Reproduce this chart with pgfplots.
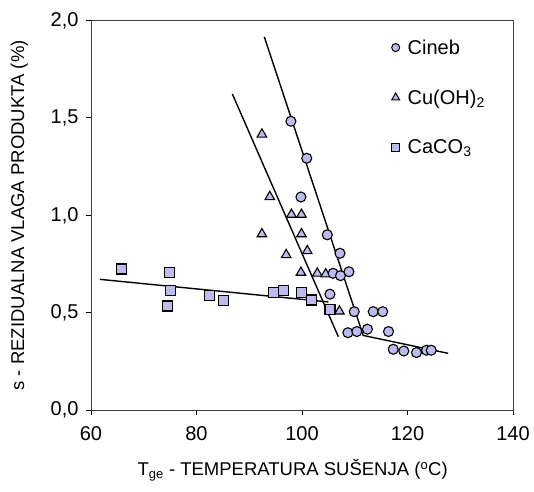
\documentclass[border=0pt]{standalone}
\usepackage{fontspec}
\setmainfont{Liberation Sans}
\usepackage{pgfplots}
\pgfplotsset{compat=1.18}
\definecolor{lav}{RGB}{187,187,238}
\begin{document}
\begin{tikzpicture}
\useasboundingbox (-91bp,-82bp) rectangle (443bp,410bp);
\begin{axis}[
  at={(0,0)}, anchor=south west,
  width=422bp, height=389.4bp, scale only axis,
  xmin=60, xmax=140, ymin=0, ymax=2,
  xtick={60,80,100,120,140}, ytick={0,0.5,1,1.5,2},
  tick align=outside, xtick pos=bottom, ytick pos=left,
  major tick length=5bp,
  axis line style={black!75, line width=0.9bp},
  tick style={black, line width=0.9bp},
  /pgf/number format/assume math mode=true,
  font=\fontsize{18.5bp}{22bp}\selectfont,
  tick label style={font=\fontsize{20bp}{24bp}\selectfont},
  yticklabel style={xshift=-4bp, /pgf/number format/.cd, fixed, fixed zerofill, precision=1, use comma},
  xticklabel style={yshift=-8bp, /pgf/number format/.cd, fixed, precision=0},
  xlabel={T\textsubscript{ge} - TEMPERATURA SUŠENJA (\textsuperscript{o}C)},
  ylabel={s - REZIDUALNA VLAGA PRODUKTA (\%)},
  xlabel style={at={(axis description cs:0.478,-0.154)}, anchor=center},
  ylabel style={at={(axis description cs:-0.17,0.5)}, anchor=center},
  legend style={draw=none, fill=none, at={(0.705,0.962)}, anchor=north west,
    row sep=30bp, font=\fontsize{20bp}{24bp}\selectfont},
  legend cell align=left,
]
% CaCO3
\addplot[only marks, mark=square*, mark size=5bp, mark options={fill=lav, draw=black, line width=1.1bp}, forget plot] coordinates {
(65.7,0.724) (74.8,0.705) (75.0,0.613) (74.5,0.534) (82.4,0.586) (85.1,0.564)
(94.6,0.603) (96.5,0.612) (99.9,0.603) (101.8,0.565) (105.3,0.514)
};
% Cu(OH)2
\addplot[only marks, mark=triangle*, mark size=5.5bp, mark options={fill=lav, draw=black, line width=1.1bp}, forget plot] coordinates {
(92.4,1.416) (93.9,1.095) (98.0,1.004) (99.9,1.004) (92.4,0.904) (99.9,0.904)
(97.0,0.797) (101.0,0.817) (99.8,0.706) (102.9,0.702) (104.5,0.698) (107.1,0.507)
};
% Cineb
\addplot[only marks, mark=*, mark size=5bp, mark options={fill=lav, draw=black, line width=1.1bp}, forget plot] coordinates {
(97.9,1.483) (100.9,1.293) (99.8,1.094) (104.8,0.900) (107.2,0.805)
(105.9,0.702) (107.3,0.690) (108.9,0.710) (105.3,0.595)
(109.9,0.505) (113.5,0.505) (115.3,0.505)
(108.7,0.397) (110.4,0.403) (112.4,0.415) (116.4,0.403)
(117.3,0.312) (119.3,0.303) (121.7,0.295) (123.6,0.307) (124.5,0.307)
};
% trend lines
\addplot[black, line width=1.4bp, forget plot] coordinates {(61.7,0.671) (105.0,0.555)};
\addplot[black, line width=1.4bp, forget plot] coordinates {(86.8,1.623) (106.9,0.376)};
\addplot[black, line width=1.4bp, forget plot] coordinates {(92.85,1.917) (111.6,0.383) (127.7,0.291)};
% legend
\addlegendimage{only marks, mark=*, mark size=4bp, mark options={fill=lav, draw=black, line width=1bp}}
\addlegendentry{\hspace{6bp}Cineb}
\addlegendimage{only marks, mark=triangle*, mark size=4.5bp, mark options={fill=lav, draw=black, line width=1bp}}
\addlegendentry{\hspace{6bp}Cu(OH)\textsubscript{2}}
\addlegendimage{only marks, mark=square*, mark size=4bp, mark options={fill=lav, draw=black, line width=1bp}}
\addlegendentry{\hspace{6bp}CaCO\textsubscript{3}}
\end{axis}
\end{tikzpicture}
\end{document}
